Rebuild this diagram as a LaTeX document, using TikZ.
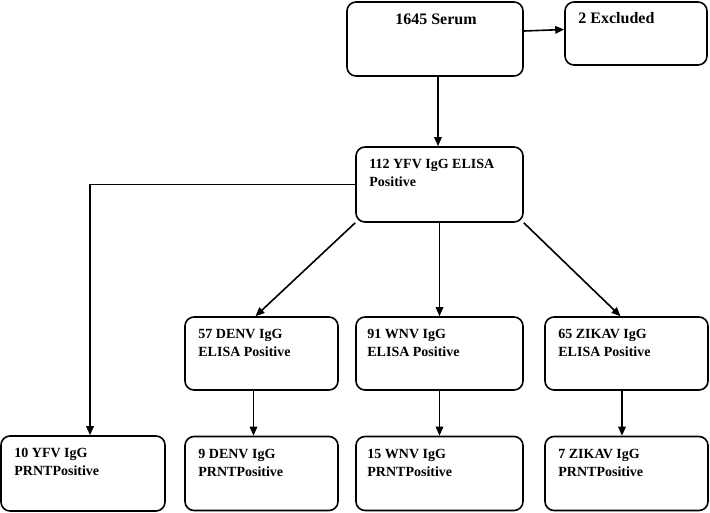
\documentclass[tikz,border=0pt]{standalone}
\usepackage{fontspec}
\setmainfont{Liberation Serif}
\usetikzlibrary{arrows.meta}
\begin{document}
\begin{tikzpicture}[x=1pt,y=-1pt,
  box/.style={draw, line width=1.6pt, rounded corners=9pt, inner sep=0pt},
  lbl/.style={anchor=north west, inner sep=0pt, align=left, font=\bfseries\fontsize{14}{18}\selectfont},
  biglbl/.style={inner sep=0pt, align=left, font=\bfseries\fontsize{16}{19}\selectfont},
  arr/.style={line width=1.6pt, -{Triangle[length=9pt,width=7.5pt]}}]
\useasboundingbox (0,0) rectangle (710,512);
% boxes
\node[box, minimum width=176pt, minimum height=74pt] (serum) at (435,39) {};
\node[box, minimum width=142pt, minimum height=63pt] (excl) at (636,33.5) {};
\node[box, minimum width=167pt, minimum height=75pt] (yfv) at (439.5,184.5) {};
\node[box, minimum width=153pt, minimum height=73pt] (denv) at (261.5,353.5) {};
\node[box, minimum width=167pt, minimum height=73pt] (wnv) at (439.5,353.5) {};
\node[box, minimum width=163pt, minimum height=73pt] (zik) at (626.5,353.5) {};
\node[box, minimum width=164pt, minimum height=75pt] (yprnt) at (83,473.5) {};
\node[box, minimum width=153pt, minimum height=74pt] (dprnt) at (261.5,473.5) {};
\node[box, minimum width=167pt, minimum height=74pt] (wprnt) at (439.5,473.5) {};
\node[box, minimum width=163pt, minimum height=74pt] (zprnt) at (626.5,473.5) {};
% texts
\node[biglbl] (serumt) at (436,19) {1645 Serum};
\node[biglbl, anchor=west] (exclt) at ([xshift=14pt]excl.west |- 0,18) {2 Excluded};
\node[lbl] (yfvt) at ([shift={(14pt,-13pt)}]yfv.north west) {112 YFV IgG ELISA\\Positive};
\node[lbl] (denvt) at ([shift={(14pt,-13pt)}]denv.north west) {57 DENV IgG\\ELISA Positive};
\node[lbl] (wnvt) at ([shift={(12pt,-13pt)}]wnv.north west) {91 WNV IgG\\ELISA Positive};
\node[lbl] (zikt) at ([shift={(14pt,-13pt)}]zik.north west) {65 ZIKAV IgG\\ELISA Positive};
\node[lbl] (yprntt) at ([shift={(14pt,-13pt)}]yprnt.north west) {10 YFV IgG\\PRNTPositive};
\node[lbl] (dprntt) at ([shift={(14pt,-13pt)}]dprnt.north west) {9 DENV IgG\\PRNTPositive};
\node[lbl] (wprntt) at ([shift={(12pt,-13pt)}]wprnt.north west) {15 WNV IgG\\PRNTPositive};
\node[lbl] (zprntt) at ([shift={(14pt,-13pt)}]zprnt.north west) {7 ZIKAV IgG\\PRNTPositive};
% helper coordinates
\coordinate (s1) at ([xshift=3pt]serum.south);
\coordinate (yt) at ([xshift=7pt]yprnt.north);
\coordinate (d1) at ([xshift=-8pt]denv.south);
\coordinate (z1) at ([xshift=-4.5pt]zik.south);
% connectors
\draw[arr] ([yshift=8pt]serum.east) -- ([yshift=4pt]excl.west);
\draw[arr] (s1) -- (s1 |- yfv.north);
\draw[arr] (yfv.west) -| (yt);
\draw[arr] (yfv.south west) -- ([xshift=-6pt]denv.north);
\draw[arr] (yfv.south) -- (wnv.north);
\draw[arr] (yfv.south east) -- ([xshift=-6pt]zik.north);
\draw[arr] (d1) -- (d1 |- dprnt.north);
\draw[arr] (wnv.south) -- (wprnt.north);
\draw[arr] (z1) -- (z1 |- zprnt.north);
\end{tikzpicture}
\end{document}
